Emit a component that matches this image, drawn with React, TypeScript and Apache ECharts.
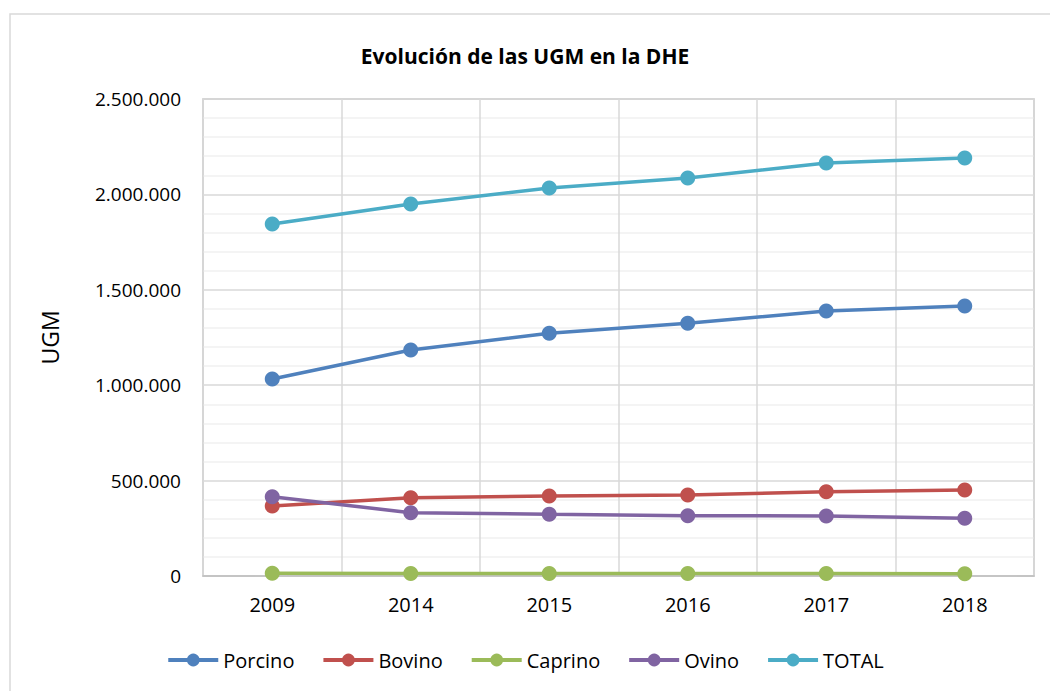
import React, { useEffect, useRef } from "react";
import * as echarts from "echarts";

const categories = ["2009", "2014", "2015", "2016", "2017", "2018"];
const porcino = [1032500, 1184500, 1272000, 1324400, 1388900, 1415100];
const bovino = [366900, 410400, 419300, 424500, 442000, 450700];
const caprino = [15000, 13500, 13000, 12500, 12500, 12000];
const ovino = [415600, 331800, 323400, 316000, 314500, 302400];
const total = [1844800, 1949700, 2033500, 2086000, 2164600, 2190800];

const seriesNames = ["Porcino", "Bovino", "Caprino", "Ovino", "TOTAL"];
const seriesData = [porcino, bovino, caprino, ovino, total];
const colors = ["#4f81bd", "#c0504d", "#9bbb59", "#8064a2", "#4bacc6"];

const FONT = "'Open Sans', 'Noto Sans', sans-serif";

function fmt(v: number): string {
  return String(Math.round(v)).replace(/\B(?=(\d{3})+(?!\d))/g, ".");
}

export default function App() {
  const ref = useRef<HTMLDivElement>(null);
  useEffect(() => {
    document.body.style.margin = "0";
    if (!ref.current) return;
    const chart = echarts.init(ref.current, null, { renderer: "svg" });
    chart.setOption({
      animation: false,
      backgroundColor: "#ffffff",
      color: colors,
      title: {
        text: "Evolución de las UGM en la DHE",
        left: "center",
        top: 40,
        textStyle: { fontFamily: FONT, fontSize: 21, fontWeight: "bold", color: "#000" },
      },
      graphic: [
        {
          type: "rect",
          shape: { x: 10, y: 14, width: 1100, height: 720 },
          style: { fill: "none", stroke: "#d9d9d9", lineWidth: 1.5 },
          silent: true,
        },
      ],
      grid: { left: 203, right: 16, top: 99, bottom: 115, show: true, borderColor: "#bfbfbf", borderWidth: 1.5 },
      legend: {
        bottom: 16,
        left: "center",
        itemWidth: 50,
        itemHeight: 16,
        itemGap: 27,
        lineStyle: { width: 4 },
        textStyle: { fontFamily: FONT, fontSize: 20, color: "#000" },
        data: seriesNames,
      },
      xAxis: {
        type: "category",
        data: categories,
        boundaryGap: true,
        axisLine: { lineStyle: { color: "#bfbfbf", width: 1.5 } },
        axisTick: { show: false },
        axisLabel: { fontFamily: FONT, fontSize: 20, color: "#000", margin: 18 },
        splitLine: { show: true, lineStyle: { color: "#d9d9d9", width: 1.5 } },
      },
      yAxis: {
        type: "value",
        min: 0,
        max: 2500000,
        interval: 500000,
        name: "UGM",
        nameLocation: "middle",
        nameGap: 142,
        nameTextStyle: { fontFamily: FONT, fontSize: 23, color: "#000" },
        axisLine: { show: false },
        axisTick: { show: false },
        axisLabel: { fontFamily: FONT, fontSize: 19, color: "#000", margin: 22, formatter: (v: number) => fmt(v) },
        splitLine: { show: true, lineStyle: { color: "#d9d9d9", width: 1.5 } },
        minorTick: { show: false, splitNumber: 5 },
        minorSplitLine: { show: true, lineStyle: { color: "#f0f0f0", width: 1.5 } },
      },
      series: seriesNames.map((name, i) => ({
        name,
        type: "line",
        data: seriesData[i],
        symbol: "circle",
        symbolSize: 15,
        lineStyle: { width: 3.5, color: colors[i] },
        itemStyle: { color: colors[i] },
      })),
    });
    return () => chart.dispose();
  }, []);
  return <div ref={ref} style={{ width: 1050, height: 691 }} />;
}
